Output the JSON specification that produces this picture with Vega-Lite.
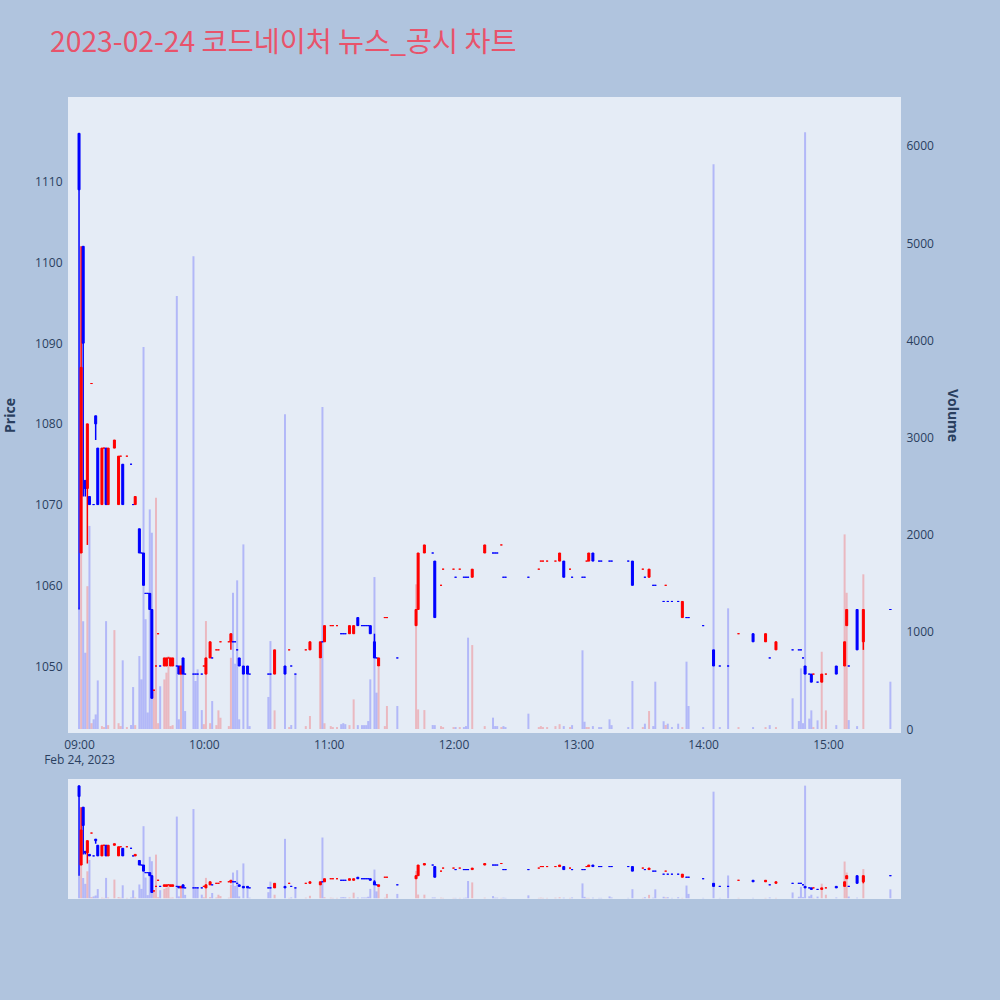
{
"$schema":"https://vega.github.io/schema/vega-lite/v6.json",
"background":"#B0C4DE",
"padding":{"left":3,"top":28,"right":50,"bottom":110},
"title":{"text":"2023-02-24 코드네이처 뉴스_공시 차트","anchor":"start","frame":"group","dx":-18,"offset":39,"font":"Noto Sans CJK KR","fontSize":28.3,"fontWeight":"normal","color":"#e8536b"},
"config":{"view":{"fill":"#E5ECF6","stroke":null},"axis":{"labelFont":"Open Sans","labelFontSize":12,"labelColor":"#2a3f5f","titleFont":"Open Sans","titleColor":"#2a3f5f","domain":false,"ticks":false}},
"spacing":14,
"datasets":{"bars":[
{"m":0,"o":1116,"h":1116,"l":1057,"c":1109,"v":1250,"d":"down"},
{"m":1,"o":1064,"h":1102,"l":1064,"c":1087,"v":1900,"d":"up"},
{"m":2,"o":1102,"h":1102,"l":1071,"c":1090,"v":1110,"d":"down"},
{"m":3,"o":1073,"h":1073,"l":1071,"c":1072,"v":785,"d":"down"},
{"m":4,"o":1072,"h":1080,"l":1065,"c":1080,"v":1470,"d":"up"},
{"m":5,"o":1071,"h":1071,"l":1070,"c":1070,"v":2090,"d":"down"},
{"m":6,"o":1085,"h":1085,"l":1085,"c":1085,"v":60,"d":"up"},
{"m":7,"o":1070,"h":1070,"l":1070,"c":1070,"v":100,"d":"down"},
{"m":8,"o":1081,"h":1081,"l":1078,"c":1080,"v":150,"d":"down"},
{"m":9,"o":1077,"h":1077,"l":1070,"c":1070,"v":500,"d":"down"},
{"m":11,"o":1070,"h":1077,"l":1070,"c":1077,"v":30,"d":"up"},
{"m":12,"o":1077,"h":1077,"l":1077,"c":1077,"v":20,"d":"up"},
{"m":13,"o":1077,"h":1077,"l":1070,"c":1070,"v":1110,"d":"down"},
{"m":14,"o":1070,"h":1077,"l":1070,"c":1077,"v":40,"d":"up"},
{"m":17,"o":1077,"h":1078,"l":1077,"c":1078,"v":1018,"d":"up"},
{"m":19,"o":1070,"h":1076,"l":1070,"c":1076,"v":60,"d":"up"},
{"m":20,"o":1076,"h":1076,"l":1076,"c":1076,"v":30,"d":"up"},
{"m":21,"o":1075,"h":1075,"l":1070,"c":1070,"v":707,"d":"down"},
{"m":23,"o":1076,"h":1076,"l":1076,"c":1076,"v":20,"d":"up"},
{"m":25,"o":1075,"h":1075,"l":1075,"c":1075,"v":41,"d":"down"},
{"m":26,"o":1070,"h":1070,"l":1070,"c":1070,"v":432,"d":"down"},
{"m":27,"o":1070,"h":1071,"l":1070,"c":1071,"v":40,"d":"up"},
{"m":29,"o":1067,"h":1067,"l":1064,"c":1064,"v":751,"d":"down"},
{"m":30,"o":1064,"h":1064,"l":1064,"c":1064,"v":511,"d":"down"},
{"m":31,"o":1064,"h":1064,"l":1060,"c":1060,"v":3930,"d":"down"},
{"m":32,"o":1059,"h":1059,"l":1059,"c":1059,"v":1130,"d":"down"},
{"m":33,"o":1059,"h":1059,"l":1059,"c":1059,"v":170,"d":"down"},
{"m":34,"o":1059,"h":1059,"l":1057,"c":1057,"v":2260,"d":"down"},
{"m":35,"o":1057,"h":1057,"l":1046,"c":1046,"v":2020,"d":"down"},
{"m":36,"o":1047,"h":1047,"l":1047,"c":1047,"v":410,"d":"up"},
{"m":37,"o":1050,"h":1050,"l":1050,"c":1050,"v":2380,"d":"up"},
{"m":38,"o":1054,"h":1054,"l":1054,"c":1054,"v":60,"d":"up"},
{"m":39,"o":1050,"h":1050,"l":1050,"c":1050,"v":440,"d":"down"},
{"m":41,"o":1050,"h":1051,"l":1050,"c":1051,"v":510,"d":"up"},
{"m":42,"o":1050,"h":1051,"l":1050,"c":1051,"v":580,"d":"up"},
{"m":43,"o":1051,"h":1051,"l":1051,"c":1051,"v":750,"d":"up"},
{"m":44,"o":1050,"h":1051,"l":1050,"c":1051,"v":30,"d":"up"},
{"m":45,"o":1050,"h":1051,"l":1050,"c":1051,"v":40,"d":"up"},
{"m":47,"o":1050,"h":1050,"l":1050,"c":1050,"v":4455,"d":"down"},
{"m":48,"o":1050,"h":1050,"l":1049,"c":1049,"v":100,"d":"down"},
{"m":49,"o":1049,"h":1050,"l":1049,"c":1050,"v":580,"d":"up"},
{"m":50,"o":1051,"h":1051,"l":1049,"c":1049,"v":730,"d":"down"},
{"m":51,"o":1049,"h":1049,"l":1049,"c":1049,"v":185,"d":"down"},
{"m":55,"o":1049,"h":1049,"l":1049,"c":1049,"v":4866,"d":"down"},
{"m":56,"o":1049,"h":1049,"l":1049,"c":1049,"v":494,"d":"down"},
{"m":57,"o":1049,"h":1049,"l":1049,"c":1049,"v":614,"d":"down"},
{"m":59,"o":1049,"h":1049,"l":1049,"c":1049,"v":195,"d":"down"},
{"m":60,"o":1050,"h":1050,"l":1050,"c":1050,"v":50,"d":"up"},
{"m":61,"o":1049,"h":1051,"l":1049,"c":1051,"v":1111,"d":"up"},
{"m":63,"o":1051,"h":1053,"l":1051,"c":1053,"v":60,"d":"up"},
{"m":64,"o":1051,"h":1051,"l":1051,"c":1051,"v":288,"d":"down"},
{"m":66,"o":1052,"h":1052,"l":1052,"c":1052,"v":40,"d":"up"},
{"m":67,"o":1052,"h":1052,"l":1052,"c":1052,"v":192,"d":"up"},
{"m":68,"o":1053,"h":1053,"l":1053,"c":1053,"v":116,"d":"up"},
{"m":72,"o":1053,"h":1053,"l":1053,"c":1053,"v":30,"d":"up"},
{"m":73,"o":1053,"h":1054,"l":1052,"c":1054,"v":733,"d":"up"},
{"m":74,"o":1053,"h":1053,"l":1053,"c":1053,"v":1402,"d":"down"},
{"m":75,"o":1053,"h":1053,"l":1053,"c":1053,"v":672,"d":"down"},
{"m":76,"o":1052,"h":1052,"l":1052,"c":1052,"v":1530,"d":"down"},
{"m":77,"o":1051,"h":1051,"l":1050,"c":1050,"v":100,"d":"down"},
{"m":79,"o":1050,"h":1050,"l":1049,"c":1049,"v":1900,"d":"down"},
{"m":81,"o":1050,"h":1050,"l":1049,"c":1049,"v":562,"d":"down"},
{"m":82,"o":1049,"h":1049,"l":1049,"c":1049,"v":30,"d":"down"},
{"m":91,"o":1049,"h":1049,"l":1049,"c":1049,"v":330,"d":"down"},
{"m":92,"o":1049,"h":1049,"l":1049,"c":1049,"v":905,"d":"down"},
{"m":94,"o":1049,"h":1052,"l":1049,"c":1052,"v":192,"d":"up"},
{"m":99,"o":1050,"h":1050,"l":1049,"c":1049,"v":3240,"d":"down"},
{"m":101,"o":1052,"h":1052,"l":1052,"c":1052,"v":20,"d":"up"},
{"m":102,"o":1050,"h":1050,"l":1050,"c":1050,"v":41,"d":"down"},
{"m":104,"o":1049,"h":1049,"l":1049,"c":1049,"v":562,"d":"down"},
{"m":109,"o":1052,"h":1052,"l":1052,"c":1052,"v":30,"d":"up"},
{"m":111,"o":1052,"h":1053,"l":1052,"c":1053,"v":134,"d":"up"},
{"m":116,"o":1051,"h":1053,"l":1051,"c":1053,"v":720,"d":"up"},
{"m":117,"o":1053,"h":1053,"l":1053,"c":1053,"v":3313,"d":"down"},
{"m":118,"o":1053,"h":1055,"l":1053,"c":1055,"v":60,"d":"up"},
{"m":121,"o":1055,"h":1055,"l":1055,"c":1055,"v":30,"d":"up"},
{"m":122,"o":1055,"h":1055,"l":1055,"c":1055,"v":20,"d":"up"},
{"m":124,"o":1055,"h":1055,"l":1055,"c":1055,"v":20,"d":"up"},
{"m":126,"o":1054,"h":1054,"l":1054,"c":1054,"v":50,"d":"down"},
{"m":127,"o":1054,"h":1054,"l":1054,"c":1054,"v":60,"d":"down"},
{"m":128,"o":1054,"h":1054,"l":1054,"c":1054,"v":50,"d":"down"},
{"m":130,"o":1054,"h":1055,"l":1054,"c":1055,"v":40,"d":"up"},
{"m":132,"o":1054,"h":1055,"l":1054,"c":1055,"v":305,"d":"up"},
{"m":134,"o":1056,"h":1056,"l":1055,"c":1055,"v":40,"d":"down"},
{"m":136,"o":1055,"h":1055,"l":1055,"c":1055,"v":40,"d":"down"},
{"m":137,"o":1055,"h":1055,"l":1055,"c":1055,"v":40,"d":"down"},
{"m":138,"o":1055,"h":1055,"l":1055,"c":1055,"v":40,"d":"down"},
{"m":139,"o":1055,"h":1055,"l":1055,"c":1055,"v":82,"d":"down"},
{"m":140,"o":1055,"h":1055,"l":1054,"c":1054,"v":511,"d":"down"},
{"m":142,"o":1053,"h":1054,"l":1051,"c":1051,"v":1564,"d":"down"},
{"m":143,"o":1051,"h":1051,"l":1051,"c":1051,"v":374,"d":"down"},
{"m":144,"o":1050,"h":1051,"l":1050,"c":1051,"v":638,"d":"up"},
{"m":147,"o":1056,"h":1056,"l":1056,"c":1056,"v":30,"d":"up"},
{"m":148,"o":1056,"h":1056,"l":1056,"c":1056,"v":237,"d":"up"},
{"m":153,"o":1051,"h":1051,"l":1051,"c":1051,"v":237,"d":"down"},
{"m":162,"o":1055,"h":1057,"l":1055,"c":1057,"v":1489,"d":"up"},
{"m":163,"o":1057,"h":1064,"l":1057,"c":1064,"v":202,"d":"up"},
{"m":166,"o":1064,"h":1065,"l":1064,"c":1065,"v":195,"d":"up"},
{"m":170,"o":1064,"h":1064,"l":1064,"c":1064,"v":41,"d":"down"},
{"m":171,"o":1063,"h":1063,"l":1056,"c":1056,"v":40,"d":"down"},
{"m":174,"o":1060,"h":1060,"l":1060,"c":1060,"v":30,"d":"up"},
{"m":175,"o":1062,"h":1062,"l":1062,"c":1062,"v":20,"d":"up"},
{"m":180,"o":1062,"h":1062,"l":1062,"c":1062,"v":20,"d":"up"},
{"m":181,"o":1061,"h":1061,"l":1061,"c":1061,"v":20,"d":"down"},
{"m":183,"o":1062,"h":1062,"l":1062,"c":1062,"v":20,"d":"up"},
{"m":185,"o":1061,"h":1061,"l":1061,"c":1061,"v":20,"d":"down"},
{"m":186,"o":1061,"h":1061,"l":1061,"c":1061,"v":30,"d":"down"},
{"m":187,"o":1061,"h":1061,"l":1061,"c":1061,"v":940,"d":"down"},
{"m":189,"o":1061,"h":1062,"l":1061,"c":1062,"v":864,"d":"up"},
{"m":195,"o":1064,"h":1065,"l":1064,"c":1065,"v":30,"d":"up"},
{"m":199,"o":1064,"h":1064,"l":1064,"c":1064,"v":117,"d":"down"},
{"m":200,"o":1064,"h":1064,"l":1064,"c":1064,"v":30,"d":"down"},
{"m":201,"o":1064,"h":1064,"l":1064,"c":1064,"v":30,"d":"down"},
{"m":203,"o":1065,"h":1065,"l":1065,"c":1065,"v":20,"d":"up"},
{"m":204,"o":1061,"h":1061,"l":1061,"c":1061,"v":30,"d":"down"},
{"m":205,"o":1061,"h":1061,"l":1061,"c":1061,"v":20,"d":"down"},
{"m":216,"o":1061,"h":1061,"l":1061,"c":1061,"v":158,"d":"down"},
{"m":221,"o":1062,"h":1062,"l":1062,"c":1062,"v":20,"d":"up"},
{"m":222,"o":1063,"h":1063,"l":1063,"c":1063,"v":30,"d":"up"},
{"m":223,"o":1063,"h":1063,"l":1063,"c":1063,"v":20,"d":"up"},
{"m":225,"o":1063,"h":1063,"l":1063,"c":1063,"v":20,"d":"up"},
{"m":229,"o":1063,"h":1063,"l":1063,"c":1063,"v":30,"d":"up"},
{"m":231,"o":1063,"h":1064,"l":1063,"c":1064,"v":50,"d":"up"},
{"m":233,"o":1063,"h":1063,"l":1061,"c":1061,"v":30,"d":"down"},
{"m":236,"o":1062,"h":1062,"l":1062,"c":1062,"v":20,"d":"up"},
{"m":237,"o":1061,"h":1061,"l":1061,"c":1061,"v":40,"d":"down"},
{"m":242,"o":1061,"h":1061,"l":1061,"c":1061,"v":810,"d":"down"},
{"m":243,"o":1061,"h":1061,"l":1061,"c":1061,"v":75,"d":"down"},
{"m":244,"o":1063,"h":1063,"l":1063,"c":1063,"v":20,"d":"up"},
{"m":245,"o":1063,"h":1064,"l":1063,"c":1064,"v":20,"d":"up"},
{"m":247,"o":1064,"h":1064,"l":1063,"c":1063,"v":30,"d":"down"},
{"m":250,"o":1063,"h":1063,"l":1063,"c":1063,"v":20,"d":"down"},
{"m":251,"o":1063,"h":1063,"l":1063,"c":1063,"v":20,"d":"down"},
{"m":255,"o":1063,"h":1063,"l":1063,"c":1063,"v":100,"d":"down"},
{"m":256,"o":1063,"h":1063,"l":1063,"c":1063,"v":40,"d":"down"},
{"m":264,"o":1063,"h":1063,"l":1063,"c":1063,"v":20,"d":"down"},
{"m":266,"o":1063,"h":1063,"l":1060,"c":1060,"v":494,"d":"down"},
{"m":271,"o":1062,"h":1062,"l":1062,"c":1062,"v":20,"d":"up"},
{"m":272,"o":1061,"h":1061,"l":1061,"c":1061,"v":55,"d":"down"},
{"m":274,"o":1061,"h":1062,"l":1061,"c":1062,"v":185,"d":"up"},
{"m":276,"o":1060,"h":1060,"l":1060,"c":1060,"v":30,"d":"down"},
{"m":277,"o":1060,"h":1060,"l":1060,"c":1060,"v":487,"d":"down"},
{"m":281,"o":1058,"h":1058,"l":1058,"c":1058,"v":80,"d":"down"},
{"m":282,"o":1060,"h":1060,"l":1060,"c":1060,"v":41,"d":"up"},
{"m":283,"o":1058,"h":1058,"l":1058,"c":1058,"v":55,"d":"down"},
{"m":285,"o":1058,"h":1058,"l":1058,"c":1058,"v":20,"d":"down"},
{"m":288,"o":1058,"h":1058,"l":1058,"c":1058,"v":55,"d":"down"},
{"m":290,"o":1056,"h":1058,"l":1056,"c":1058,"v":20,"d":"up"},
{"m":292,"o":1056,"h":1056,"l":1056,"c":1056,"v":693,"d":"down"},
{"m":293,"o":1056,"h":1056,"l":1056,"c":1056,"v":237,"d":"down"},
{"m":300,"o":1055,"h":1055,"l":1055,"c":1055,"v":20,"d":"down"},
{"m":305,"o":1052,"h":1052,"l":1050,"c":1050,"v":5813,"d":"down"},
{"m":308,"o":1050,"h":1050,"l":1050,"c":1050,"v":20,"d":"down"},
{"m":312,"o":1050,"h":1050,"l":1050,"c":1050,"v":1242,"d":"down"},
{"m":317,"o":1054,"h":1054,"l":1054,"c":1054,"v":20,"d":"up"},
{"m":324,"o":1054,"h":1054,"l":1053,"c":1053,"v":20,"d":"down"},
{"m":330,"o":1053,"h":1054,"l":1053,"c":1054,"v":20,"d":"up"},
{"m":332,"o":1051,"h":1051,"l":1051,"c":1051,"v":40,"d":"down"},
{"m":335,"o":1052,"h":1053,"l":1052,"c":1053,"v":20,"d":"up"},
{"m":343,"o":1052,"h":1052,"l":1052,"c":1052,"v":316,"d":"down"},
{"m":346,"o":1052,"h":1052,"l":1052,"c":1052,"v":82,"d":"down"},
{"m":347,"o":1052,"h":1052,"l":1052,"c":1052,"v":624,"d":"down"},
{"m":348,"o":1051,"h":1051,"l":1051,"c":1051,"v":60,"d":"down"},
{"m":349,"o":1050,"h":1050,"l":1049,"c":1049,"v":6142,"d":"down"},
{"m":351,"o":1049,"h":1049,"l":1049,"c":1049,"v":107,"d":"down"},
{"m":352,"o":1049,"h":1049,"l":1048,"c":1048,"v":192,"d":"down"},
{"m":353,"o":1049,"h":1049,"l":1049,"c":1049,"v":20,"d":"up"},
{"m":355,"o":1048,"h":1048,"l":1048,"c":1048,"v":89,"d":"down"},
{"m":357,"o":1048,"h":1049,"l":1048,"c":1049,"v":795,"d":"up"},
{"m":359,"o":1049,"h":1049,"l":1049,"c":1049,"v":192,"d":"up"},
{"m":364,"o":1050,"h":1050,"l":1049,"c":1049,"v":40,"d":"down"},
{"m":368,"o":1050,"h":1053,"l":1050,"c":1053,"v":2003,"d":"up"},
{"m":369,"o":1055,"h":1057,"l":1055,"c":1057,"v":1402,"d":"up"},
{"m":370,"o":1050,"h":1050,"l":1050,"c":1050,"v":92,"d":"down"},
{"m":374,"o":1057,"h":1057,"l":1052,"c":1052,"v":30,"d":"down"},
{"m":377,"o":1053,"h":1057,"l":1052,"c":1057,"v":1592,"d":"up"},
{"m":390,"o":1057,"h":1057,"l":1057,"c":1057,"v":487,"d":"down"}
]},
"data":{"name":"bars"},
"vconcat":[
{
"width":833,"height":636,
"encoding":{"x":{"field":"m","type":"quantitative","scale":{"domain":[-2.9,392.7],"nice":false,"zero":false},"axis":{"title":null,"grid":false,"values":[0,60,120,180,240,300,360],"labelExpr":"datum.value==0 ? ['09:00','Feb 24, 2023'] : (toString(9+floor(datum.value/60)) + ':00')","labelLineHeight":15,"labelPadding":6,"labelFlush":false,"labelOverlap":false}}},
"layer":[
 {"layer":[
  {"mark":{"type":"rule","color":"#ffffff","strokeWidth":2},"encoding":{"y":{"datum":0,"type":"quantitative"}}},
  {"mark":{"type":"bar","size":2,"opacity":0.22},
   "encoding":{"y":{"field":"v","type":"quantitative","scale":{"domain":[-41,6504],"nice":false,"zero":false},"axis":{"orient":"right","title":"Volume","values":[0,1000,2000,3000,4000,5000,6000],"format":"d","gridColor":"#909090","labelPadding":5,"titlePadding":11,"titleFontSize":14,"titleFontWeight":"bold"}},
   "color":{"field":"d","type":"nominal","scale":{"domain":["up","down"],"range":["#ff0000","#0000ff"]},"legend":null}}}
 ]},
 {"layer":[
  {"mark":{"type":"rule","strokeWidth":1.5},
   "encoding":{"y":{"field":"l","type":"quantitative","scale":{"domain":[1041.7,1120.5],"nice":false,"zero":false},"axis":{"orient":"left","title":"Price","values":[1050,1060,1070,1080,1090,1100,1110],"format":"d","gridColor":"#ffffff","labelPadding":6,"titlePadding":17,"titleFontSize":14,"titleFontWeight":"bold"}},"y2":{"field":"h"},
   "color":{"field":"d","type":"nominal","scale":{"domain":["up","down"],"range":["#ff0000","#0000ff"]},"legend":null}}},
  {"mark":{"type":"bar","size":2,"strokeWidth":1},
   "encoding":{"y":{"field":"o","type":"quantitative"},"y2":{"field":"c"},
   "color":{"field":"d","type":"nominal","scale":{"domain":["up","down"],"range":["#ff0000","#0000ff"]},"legend":null},
   "stroke":{"field":"d","type":"nominal","scale":{"domain":["up","down"],"range":["#ff0000","#0000ff"]},"legend":null}}}
 ]}
],
"resolve":{"scale":{"y":"independent"},"axis":{"y":"independent"}}
},
{
"width":833,"height":120,
"encoding":{"x":{"field":"m","type":"quantitative","scale":{"domain":[-2.9,392.7],"nice":false,"zero":false},"axis":null}},
"layer":[
 {"mark":{"type":"bar","size":2,"opacity":0.22},
  "encoding":{"y":{"field":"v","type":"quantitative","scale":{"domain":[-41,6504],"nice":false,"zero":false},"axis":null},
  "color":{"field":"d","type":"nominal","scale":{"domain":["up","down"],"range":["#ff0000","#0000ff"]},"legend":null}}},
 {"layer":[
  {"mark":{"type":"rule","strokeWidth":1.5},
   "encoding":{"y":{"field":"l","type":"quantitative","scale":{"domain":[1041.7,1120.5],"nice":false,"zero":false},"axis":null},"y2":{"field":"h"},
   "color":{"field":"d","type":"nominal","scale":{"domain":["up","down"],"range":["#ff0000","#0000ff"]},"legend":null}}},
  {"mark":{"type":"bar","size":2,"strokeWidth":1},
   "encoding":{"y":{"field":"o","type":"quantitative"},"y2":{"field":"c"},
   "color":{"field":"d","type":"nominal","scale":{"domain":["up","down"],"range":["#ff0000","#0000ff"]},"legend":null},
   "stroke":{"field":"d","type":"nominal","scale":{"domain":["up","down"],"range":["#ff0000","#0000ff"]},"legend":null}}}
 ]}
],
"resolve":{"scale":{"y":"independent"}}
}
]
}
